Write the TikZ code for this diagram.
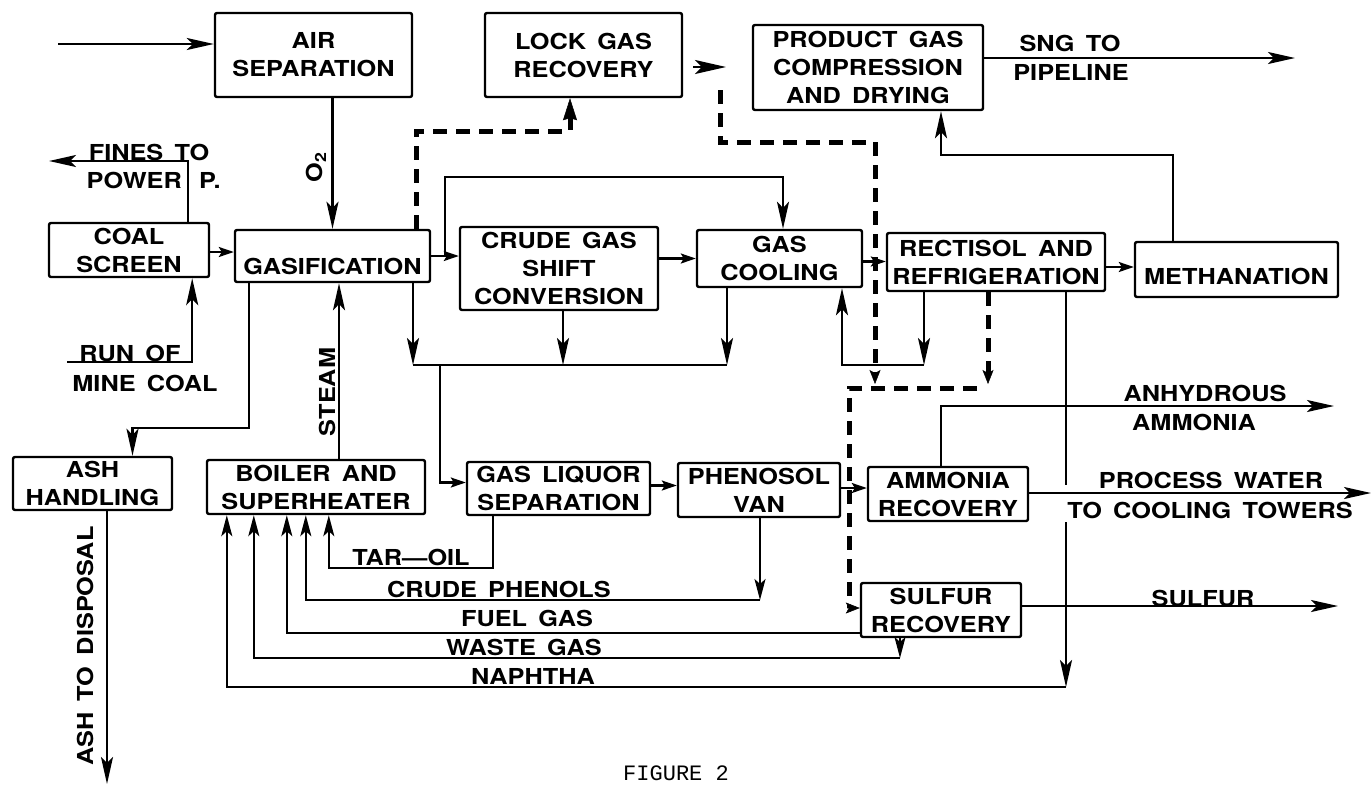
\documentclass[tikz,border=0pt]{standalone}
\usepackage{fontspec}
\usetikzlibrary{arrows.meta}
\newfontfamily\lblfont[FakeStretch=1.15,WordSpace=1.6]{TeX Gyre Heros}
\newfontfamily\figfont{Liberation Mono}
\tikzset{
  lbl/.style={font=\lblfont\bfseries\fontsize{22}{28}\selectfont, align=center, inner sep=0pt},
  box/.style={lbl, draw, line width=2.4pt, rounded corners=2pt},
  ln/.style={line width=2.2pt},
  big/.style={ln, -{Stealth[length=27pt,width=12pt,inset=6pt]}},
  mid/.style={ln, -{Stealth[length=21pt,width=11pt,inset=5pt]}},
  small/.style={ln, -{Stealth[length=15pt,width=10pt,inset=3pt]}},
  dashln/.style={line width=5pt, dash pattern=on 14pt off 9pt},
  dtip/.style={-{Stealth[length=14pt,width=11pt,inset=3pt,line width=0.5pt]}},
}
\begin{document}
\begin{tikzpicture}[x=1pt,y=-1pt]
\useasboundingbox[fill=white] (0,0) rectangle (1372,785);

% ---------- boxes ----------
\node[box, minimum width=197pt, minimum height=84pt] (air) at (313.5,55) {AIR\\SEPARATION};
\node[box, minimum width=197pt, minimum height=84pt] (lock) at (583.5,55) {LOCK GAS\\RECOVERY};
\node[box, minimum width=230pt, minimum height=85pt] (prod) at (868,67.5) {PRODUCT GAS\\COMPRESSION\\AND DRYING};
\node[box, minimum width=160pt, minimum height=54pt] (coal) at (129,250) {COAL\\SCREEN};
\node[box, minimum width=195pt, minimum height=52pt] (gas) at (332.5,256) {\raisebox{-10pt}[\height][\depth]{GASIFICATION}};
\node[box, minimum width=198pt, minimum height=83pt] (crude) at (559,268.5) {CRUDE GAS\\SHIFT\\CONVERSION};
\node[box, minimum width=165pt, minimum height=57pt] (cool) at (779.5,258.5) {GAS\\COOLING};
\node[box, minimum width=218pt, minimum height=58pt] (rect) at (996,262) {RECTISOL AND\\REFRIGERATION};
\node[box, minimum width=203pt, minimum height=55pt] (meth) at (1236.5,269.5) {\raisebox{-7pt}[\height][\depth]{METHANATION}};
\node[box, minimum width=159pt, minimum height=53pt] (ash) at (92.5,483.5) {ASH\\HANDLING};
\node[box, minimum width=218pt, minimum height=54pt] (boil) at (316,487) {BOILER AND\\SUPERHEATER};
\node[box, minimum width=183pt, minimum height=53pt] (liq) at (558.5,488.5) {GAS LIQUOR\\SEPARATION};
\node[box, minimum width=162pt, minimum height=54pt] (phen) at (759,490) {PHENOSOL\\VAN};
\node[box, minimum width=160pt, minimum height=54pt] (amm) at (948,494) {AMMONIA\\RECOVERY};
\node[box, minimum width=160pt, minimum height=54pt] (sulf) at (941,610) {SULFUR\\RECOVERY};

% ---------- free labels ----------
\node[lbl] (tfines) at (149,152) {FINES TO};
\node[lbl, anchor=east] (tpower) at (182,180) {POWER};
\node[lbl, anchor=west] (tpp) at (199,180) {P.};
\node[lbl] (trun) at (130,353) {RUN OF};
\node[lbl] (tmine) at (145,383) {MINE COAL};
\node[lbl, rotate=90] (to2) at (316,167) {O\textsubscript{2}};
\node[lbl, rotate=90] (tsteam) at (327,392) {STEAM};
\node[lbl, rotate=90] (tash) at (85,646) {ASH TO DISPOSAL};
\node[lbl] (tsng) at (1070,43) {SNG TO};
\node[lbl] (tpipe) at (1071,72) {PIPELINE};
\node[lbl] (tanh) at (1205,393) {ANHYDROUS};
\node[lbl] (tamm) at (1194,422) {AMMONIA};
\node[lbl] (tpw) at (1211,480) {PROCESS WATER};
\node[lbl] (ttct) at (1210,510) {TO COOLING TOWERS};
\node[lbl] (tsulf) at (1203,598) {SULFUR};
\node[lbl] (ttar) at (411,557) {TAR\textemdash OIL};
\node[lbl] (tcp) at (499,589) {CRUDE PHENOLS};
\node[lbl] (tfuel) at (527,618) {FUEL GAS};
\node[lbl] (twaste) at (524,647) {WASTE GAS};
\node[lbl] (tnaph) at (533,676) {NAPHTHA};
\node[font=\figfont\fontsize{22}{22}\selectfont, anchor=north west, inner sep=0pt] (tfig) at (623,766) {FIGURE 2};

% ---------- coordinates ----------
\coordinate (inp) at (58,44);
\coordinate (fines) at (49,161);
\coordinate (rom) at (67,362);
\coordinate (st) at (339,460);
\coordinate (bp) at (445,256);
\coordinate (bpx) at (783,177);
\coordinate (lk) at (570,131);
\coordinate (mp) at (1173,155);
\coordinate (sng) at (1295,58);
\coordinate (colL) at (413,365);
\coordinate (colR) at (727,365);
\coordinate (lq) at (440,365);
\coordinate (lp) at (842,365);
\coordinate (lp2) at (924,365);
\coordinate (rv1) at (1066,485);
\coordinate (rv2) at (1066,522);
\coordinate (nap) at (1066,687);
\coordinate (an0) at (941,406);
\coordinate (anh) at (1334,406);
\coordinate (pw) at (1371,493);
\coordinate (sp) at (1338,606);
\coordinate (tar) at (493,568);
\coordinate (cp) at (760,600);
\coordinate (wg) at (900,658);
\coordinate (ad) at (107,784);
\coordinate (la1) at (693,67);
\coordinate (la2) at (726,67);
\coordinate (d0) at (720,90);
\coordinate (d1) at (875,142);
\coordinate (d2) at (875,384);
\coordinate (d3) at (988,384);
\coordinate (d4) at (977,388);
\coordinate (d5) at (849,388);

% ---------- solid connectors ----------
\draw[big] (inp) -- (inp -| air.west);
\draw[big] (air.south -| gas.north) -- (gas.north);
\draw[small] ([yshift=-2pt]coal.east) -- ([yshift=-2pt]coal.east -| gas.west);
\draw[big] ([xshift=-22pt]coal.north east) |- (fines);
\draw[big] (rom) -| ([xshift=-18pt]coal.south east);
\draw[big] ([xshift=15pt]gas.south west) -- ++(0,145) -| ([xshift=40pt]ash.north);
\draw[big] (st) -- (st |- gas.south);
\draw[small] (gas.east) -- (gas.east -| crude.west);
\draw[big] (bp) |- (bpx) -- (bpx |- cool.north);
\draw[small] (cool.west -| crude.east) -- (cool.west);
\draw[small] ([yshift=-3pt]cool.east) -- ([yshift=-3pt]cool.east -| rect.west);
\draw[small] ([yshift=-5pt]rect.east) -- ([yshift=-5pt]rect.east -| meth.west);
\draw[big] (mp |- meth.north) -- (mp) -| ([xshift=73pt]prod.south);
\draw[big] (sng -| prod.east) -- (sng);
\draw[big] (colL |- gas.south) -- (colL);
\draw[big] ([xshift=4pt]crude.south) -- ([xshift=4pt]crude.south |- colL);
\draw[big] (colR |- cool.south) -- (colR);
\draw[ln] (colL) -- (colR);
\draw[small] (lq) |- ([yshift=6pt]liq.west);
\draw[small] ([yshift=3pt]liq.west -| liq.east) -- ([yshift=3pt]liq.west -| phen.west);
\draw[small] ([yshift=2pt]phen.east) -- ([yshift=2pt]phen.east -| amm.west);
\draw[big] (lp2 |- rect.south) -- (lp2);
\draw[big] (lp2) -- (lp) -- (lp |- cool.south);
\draw[ln] (rv1 |- rect.south) -- (rv1);
\draw[big] (rv2) -- (nap);
\draw[mid] (nap) -| ([xshift=21pt]boil.south west);
\draw[big] (an0 |- amm.north) -- (an0) -- (anh);
\draw[big] (pw -| amm.east) -- (pw);
\draw[big] (sp -| sulf.east) -- (sp);
\draw[mid] (tar |- liq.south) -- (tar) -| ([xshift=123pt]boil.south west);
\draw[mid] (cp |- phen.south) -- (cp);
\draw[mid] (cp) -| ([xshift=100pt]boil.south west);
\draw[mid] ([yshift=5pt]sulf.south west) -| ([xshift=81pt]boil.south west);
\draw[mid] (wg |- sulf.south) -- (wg);
\draw[mid] (wg) -| ([xshift=48pt]boil.south west);
\draw[big] (ad |- ash.south) -- (ad);
\draw[ln, -{Stealth[length=31pt,width=14pt,inset=7pt]}] (la1) -- (la2);

% ---------- dashed connectors ----------
\draw[dashln, -{Stealth[length=22pt,width=14pt,inset=2pt,line width=0.5pt]}] ([xshift=-15pt]gas.north east) |- (lk) -- (lk |- lock.south);
\draw[dashln, dtip] (d0) |- (d1) -- (d2);
\draw[dashln, dtip] (d3 |- rect.south) -- (d3);
\draw[dashln, dtip] (d4) -- (d5) |- ([yshift=2pt]sulf.west);
\end{tikzpicture}
\end{document}
